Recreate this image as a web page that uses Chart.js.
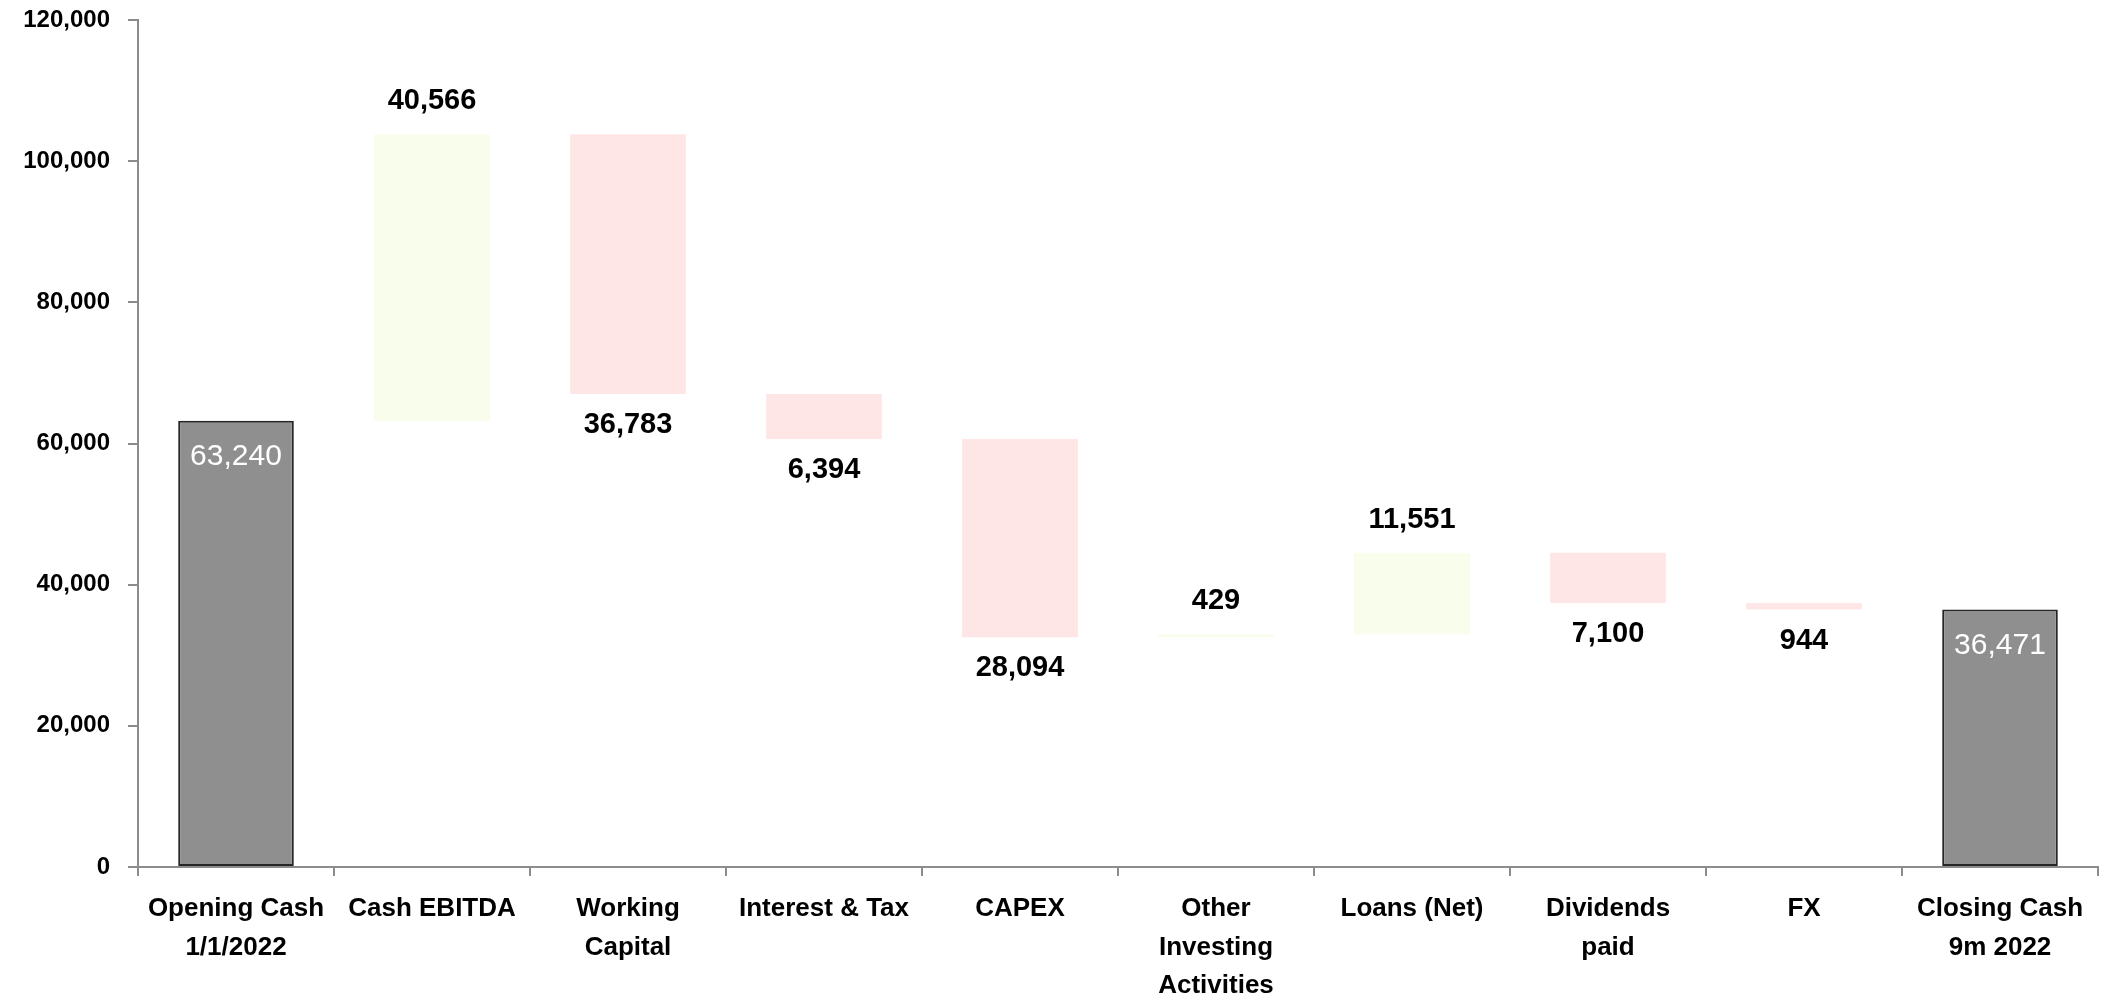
<!DOCTYPE html>
<html>
<head>
<meta charset="utf-8">
<script src="https://cdn.jsdelivr.net/npm/chart.js@4.4.1/dist/chart.umd.min.js"></script>
<style>
  html, body { margin: 0; padding: 0; background: #ffffff; }
  #wrap { width: 2108px; height: 996px; position: relative; }
</style>
</head>
<body>
<div id="wrap"><canvas id="c"></canvas></div>
<script>
// ---- data ----
const categories = [
  ['Opening Cash', '1/1/2022'],
  'Cash EBITDA',
  ['Working', 'Capital'],
  'Interest & Tax',
  'CAPEX',
  ['Other', 'Investing', 'Activities'],
  'Loans (Net)',
  ['Dividends', 'paid'],
  'FX',
  ['Closing Cash', '9m 2022']
];
// change amounts (totals given as their level)
const openingCash = 63240;
const changes = [40566, -36783, -6394, -28094, 429, 11551, -7100, -944];
const closingCash = 36471;
const yTicks = { min: 0, max: 120000, step: 20000 };

// ---- build floating bars ----
const floating = [];
const kinds = [];
const labelValues = [];
floating.push([0, openingCash]); kinds.push('total'); labelValues.push(openingCash);
let level = openingCash;
changes.forEach(v => {
  floating.push([level, level + v]);
  kinds.push(v >= 0 ? 'up' : 'down');
  labelValues.push(Math.abs(v));
  level += v;
});
floating.push([0, closingCash]); kinds.push('total'); labelValues.push(closingCash);

const colorFor = { total: '#8f8f8f', up: '#f8fdec', down: '#ffe6e6' };
const borderFor = { total: '#262626', up: 'rgba(0,0,0,0)', down: 'rgba(0,0,0,0)' };

const FONT = "'Liberation Sans', Arial, sans-serif";
const fmt = v => Math.round(v).toLocaleString('en-US');

const labelPlugin = {
  id: 'wfLabels',
  afterDatasetsDraw(chart) {
    const ctx = chart.ctx;
    const meta = chart.getDatasetMeta(0);
    ctx.save();
    ctx.textAlign = 'center';
    ctx.textBaseline = 'middle';
    meta.data.forEach((el, i) => {
      const top = Math.min(el.y, el.base);
      const bottom = Math.max(el.y, el.base);
      const text = fmt(labelValues[i]);
      if (kinds[i] === 'total') {
        ctx.font = '30px ' + FONT;
        ctx.fillStyle = '#ffffff';
        ctx.fillText(text, el.x, top + 36);
      } else if (kinds[i] === 'up') {
        ctx.font = 'bold 29px ' + FONT;
        ctx.fillStyle = '#000000';
        ctx.fillText(text, el.x, top - 33);
      } else {
        ctx.font = 'bold 29px ' + FONT;
        ctx.fillStyle = '#000000';
        ctx.fillText(text, el.x, bottom + 31);
      }
    });
    ctx.restore();
  }
};

new Chart(document.getElementById('c'), {
  type: 'bar',
  data: {
    labels: categories,
    datasets: [{
      data: floating,
      backgroundColor: kinds.map(k => colorFor[k]),
      borderColor: kinds.map(k => borderFor[k]),
      borderWidth: kinds.map(k => k === 'total' ? 2 : 0),
      borderSkipped: false,
      barPercentage: 0.59,
      categoryPercentage: 1.0
    }]
  },
  options: {
    responsive: true,
    maintainAspectRatio: false,
    animation: false,
    layout: { padding: { top: 20, right: 10, bottom: 0, left: 0 } },
    plugins: {
      legend: { display: false },
      tooltip: { enabled: false }
    },
    scales: {
      x: {
        afterFit(scale) { scale.height = 129; },
        border: { display: true, color: '#8c8c8c', width: 2 },
        grid: {
          display: true,
          drawOnChartArea: false,
          drawTicks: true,
          tickLength: 9,
          color: '#8c8c8c',
          lineWidth: 2,
          offset: true
        },
        ticks: {
          color: '#000000',
          font: { family: FONT, size: 26, weight: 'bold', lineHeight: 1.48 },
          padding: 14,
          maxRotation: 0,
          autoSkip: false
        }
      },
      y: {
        min: yTicks.min,
        max: yTicks.max,
        afterFit(scale) { scale.width = 138; scale.paddingTop = 0; scale.paddingBottom = 0; },
        border: { display: true, color: '#8c8c8c', width: 2 },
        grid: {
          display: true,
          drawOnChartArea: false,
          drawTicks: true,
          tickLength: 10,
          color: '#8c8c8c',
          lineWidth: 2
        },
        ticks: {
          stepSize: yTicks.step,
          color: '#000000',
          font: { family: FONT, size: 24, weight: 'bold' },
          padding: 18,
          callback: v => fmt(v)
        }
      }
    }
  },
  plugins: [labelPlugin]
});
</script>
</body>
</html>
